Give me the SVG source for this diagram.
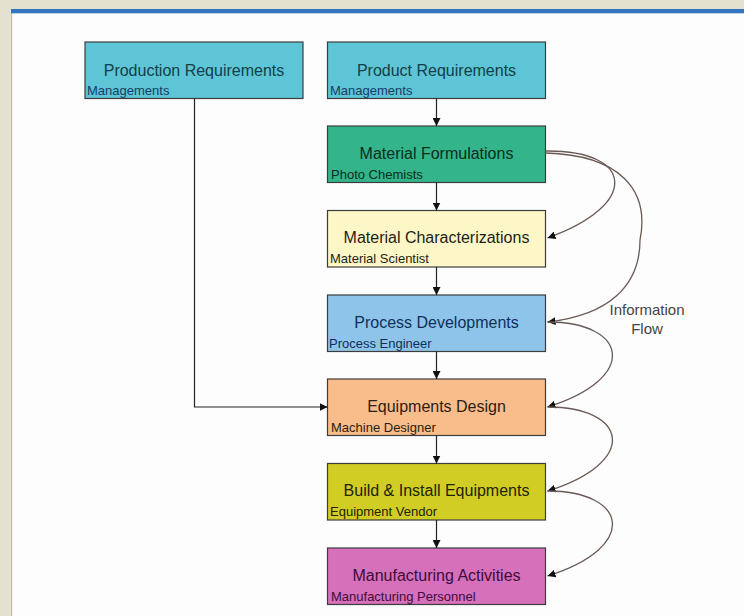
<svg xmlns="http://www.w3.org/2000/svg" width="744" height="616" viewBox="0 0 744 616">
<defs>
<style>
.box{stroke:#3c3c3c;stroke-width:1.2}
.t{font-family:"Liberation Sans",Arial,sans-serif;font-size:16px;text-anchor:middle}
.s{font-family:"Liberation Sans",Arial,sans-serif;font-size:13px}
.conn{fill:none;stroke:#222;stroke-width:1.2}
.info{fill:none;stroke:#6a5a56;stroke-width:1.3}
.lbl{font-family:"Liberation Sans",Arial,sans-serif;font-size:15px;fill:#444;text-anchor:middle}
</style>
<marker id="ah" viewBox="0 0 10 10" refX="10" refY="5" markerWidth="8" markerHeight="8" markerUnits="userSpaceOnUse" orient="auto">
<path d="M0,0 L10,5 L0,10 z" fill="#111"/>
</marker>
</defs>
<rect x="0" y="0" width="744" height="616" fill="#fdfdfd"/>
<rect x="0" y="0" width="744" height="9" fill="#e5e1cf"/>
<rect x="0" y="0" width="11" height="616" fill="#e5e1cf"/>
<rect x="11" y="13" width="1.2" height="603" fill="#c5bf9f"/>
<rect x="11" y="9" width="733" height="4.3" fill="#3274bd"/>

<g id="n-production">
<rect class="box" x="85" y="42" width="218" height="56.5" fill="#5ec5d7"/>
<text class="t" x="194" y="76" fill="#123f4a">Production Requirements</text>
<text class="s" x="87" y="94.5" fill="#173d66">Managements</text>
</g>
<g id="n-product">
<rect class="box" x="327.5" y="42" width="218" height="56.5" fill="#5ec5d7"/>
<text class="t" x="436.5" y="76" fill="#123f4a">Product Requirements</text>
<text class="s" x="330" y="94.5" fill="#173d66">Managements</text>
</g>
<g id="n-formulations">
<rect class="box" x="327.5" y="126" width="218" height="56.5" fill="#33b48b"/>
<text class="t" x="436.5" y="158.5" fill="#082e20">Material Formulations</text>
<text class="s" x="331" y="178.5" fill="#082e20">Photo Chemists</text>
</g>
<g id="n-characterizations">
<rect class="box" x="327.5" y="210.5" width="218" height="56.5" fill="#fdf6c6"/>
<text class="t" x="436.5" y="243" fill="#1e1e18">Material Characterizations</text>
<text class="s" x="330" y="263" fill="#1e1e18">Material Scientist</text>
</g>
<g id="n-process">
<rect class="box" x="327.5" y="295" width="218" height="56.5" fill="#8fc4ea"/>
<text class="t" x="436.5" y="327.5" fill="#0e3058">Process Developments</text>
<text class="s" x="329" y="347.5" fill="#0e3058">Process Engineer</text>
</g>
<g id="n-equipdesign">
<rect class="box" x="327.5" y="379" width="218" height="56.5" fill="#f9bd8b"/>
<text class="t" x="436.5" y="411.5" fill="#2e1c0e">Equipments Design</text>
<text class="s" x="331" y="431.5" fill="#2e1c0e">Machine Designer</text>
</g>
<g id="n-build">
<rect class="box" x="327.5" y="463.5" width="218" height="56.5" fill="#d1cd24"/>
<text class="t" x="436.5" y="496" fill="#222204">Build &amp; Install Equipments</text>
<text class="s" x="330" y="516" fill="#222204">Equipment Vendor</text>
</g>
<g id="n-manufacturing">
<rect class="box" x="327.5" y="548" width="218" height="56.5" fill="#d670ba"/>
<text class="t" x="436.5" y="580.5" fill="#3e0c3a">Manufacturing Activities</text>
<text class="s" x="331" y="600.5" fill="#3e0c3a">Manufacturing Personnel</text>
</g>

<g id="connectors">
<line class="conn" x1="436.5" y1="98.5" x2="436.5" y2="126" marker-end="url(#ah)"/>
<line class="conn" x1="436.5" y1="182.5" x2="436.5" y2="210.5" marker-end="url(#ah)"/>
<line class="conn" x1="436.5" y1="267" x2="436.5" y2="295" marker-end="url(#ah)"/>
<line class="conn" x1="436.5" y1="351.5" x2="436.5" y2="379" marker-end="url(#ah)"/>
<line class="conn" x1="436.5" y1="435.5" x2="436.5" y2="463.5" marker-end="url(#ah)"/>
<line class="conn" x1="436.5" y1="520" x2="436.5" y2="548" marker-end="url(#ah)"/>
<path class="conn" d="M194.5,98.5 V407 H327.5" marker-end="url(#ah)"/>

<path class="info" d="M545.5,151 C635,150 640,205 547.5,238" marker-end="url(#ah)"/>
<path class="info" d="M545.5,153 C620,155 650,190 640,240 C640,285 610,315 547.5,322" marker-end="url(#ah)"/>
<path class="info" d="M547.5,322 C628,322 640,378 547.5,407" marker-end="url(#ah)"/>
<path class="info" d="M547.5,407 C628,407 640,462 547.5,491" marker-end="url(#ah)"/>
<path class="info" d="M547.5,491 C628,491 640,547 547.5,576" marker-end="url(#ah)"/>
</g>
<g id="label-info">
<text class="lbl" x="647" y="315">Information</text>
<text class="lbl" x="647" y="334">Flow</text>
</g>
</svg>
